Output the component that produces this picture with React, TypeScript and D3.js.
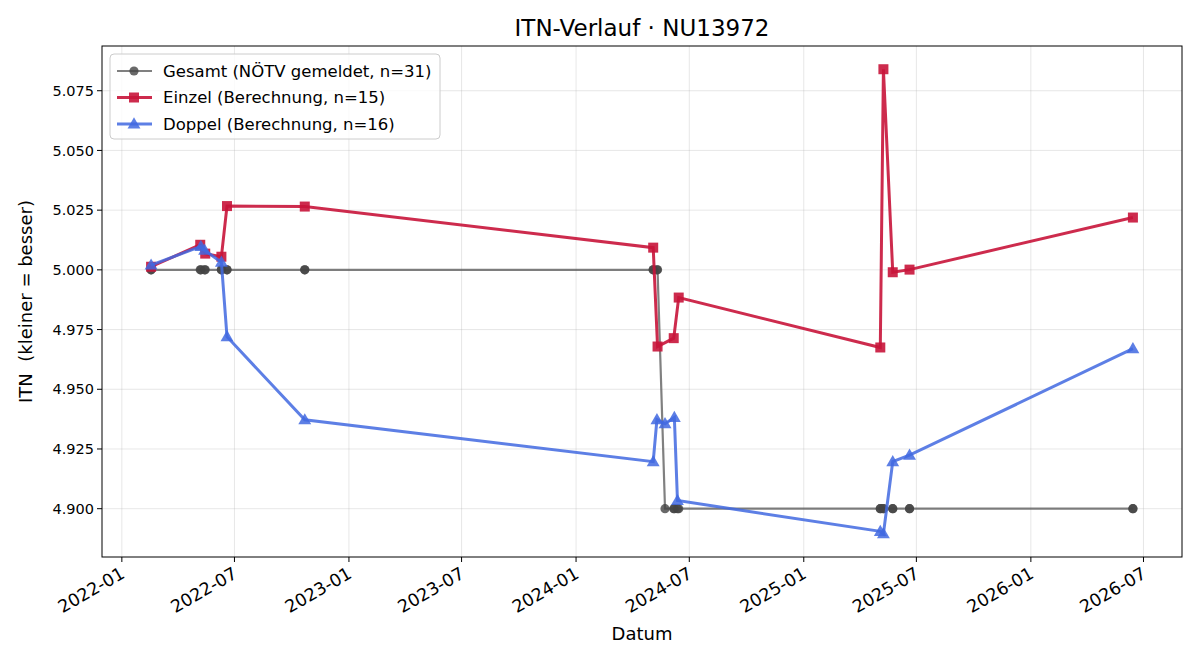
import React, { useEffect, useRef } from 'react';
import * as d3 from 'd3';

// Einzel (Berechnung)
const einzelDates = [
  '2022-02-17', '2022-05-07', '2022-05-15', '2022-06-10', '2022-06-19', '2022-10-22',
  '2024-05-04', '2024-05-11', '2024-06-06', '2024-06-14',
  '2025-05-04', '2025-05-09', '2025-05-24', '2025-06-20', '2026-06-14',
];
const einzelValues = [
  5.0013, 5.0105, 5.0068, 5.0055, 5.0267, 5.0265,
  5.0093, 4.9679, 4.9714, 4.9884,
  4.9675, 5.0840, 4.9990, 5.0001, 5.0219,
];

// Doppel (Berechnung)
const doppelDates = [
  '2022-02-17', '2022-05-08', '2022-05-14', '2022-06-10', '2022-06-19', '2022-10-22',
  '2024-05-04', '2024-05-10', '2024-05-23', '2024-06-07', '2024-06-12',
  '2025-05-04', '2025-05-09', '2025-05-24', '2025-06-20', '2026-06-14',
];
const doppelValues = [
  5.0020, 5.0098, 5.0082, 5.0032, 4.9720, 4.9372,
  4.9197, 4.9373, 4.9356, 4.9382, 4.9034,
  4.8905, 4.8895, 4.9197, 4.9224, 4.9670,
];

// Gesamt (NÖTV gemeldet)
const gesamtDates = [
  '2022-02-17', '2022-02-17', '2022-05-07', '2022-05-08', '2022-05-14', '2022-05-15',
  '2022-06-10', '2022-06-10', '2022-06-19', '2022-06-19', '2022-10-22', '2022-10-22',
  '2024-05-04', '2024-05-04', '2024-05-10', '2024-05-11',
  '2024-05-23', '2024-06-06', '2024-06-07', '2024-06-12', '2024-06-14',
  '2025-05-04', '2025-05-04', '2025-05-09', '2025-05-09', '2025-05-24', '2025-05-24',
  '2025-06-20', '2025-06-20', '2026-06-14', '2026-06-14',
];
const gesamtValues = [
  5.0, 5.0, 5.0, 5.0, 5.0, 5.0,
  5.0, 5.0, 5.0, 5.0, 5.0, 5.0,
  5.0, 5.0, 5.0, 5.0,
  4.9, 4.9, 4.9, 4.9, 4.9,
  4.9, 4.9, 4.9, 4.9, 4.9, 4.9,
  4.9, 4.9, 4.9, 4.9,
];

const yTicks = [4.900, 4.925, 4.950, 4.975, 5.000, 5.025, 5.050, 5.075];

const title = 'ITN-Verlauf · NU13972';
const xLabel = 'Datum';
const yLabel = 'ITN  (kleiner = besser)';

const WIDTH = 1200;
const HEIGHT = 660;
const margin = { top: 46, right: 18, bottom: 103, left: 102 };
const FONT = 'DejaVu Sans, sans-serif';

const parse = d3.timeParse('%Y-%m-%d');

type Pt = { date: Date; value: number };
const toPoints = (dates: string[], values: number[]): Pt[] =>
  dates.map((d, i) => ({ date: parse(d) as Date, value: values[i] }));

const App = () => {
  const ref = useRef<SVGSVGElement | null>(null);

  useEffect(() => {
    document.body.style.margin = '0';
    if (!ref.current) return;

    const svg = d3.select(ref.current);
    svg.selectAll('*').remove();

    const gesamt = toPoints(gesamtDates, gesamtValues);
    const einzel = toPoints(einzelDates, einzelValues);
    const doppel = toPoints(doppelDates, doppelValues);
    const all = [...gesamt, ...einzel, ...doppel];

    const innerW = WIDTH - margin.left - margin.right;
    const innerH = HEIGHT - margin.top - margin.bottom;

    // 5% padding like matplotlib autoscale
    const [t0, t1] = d3.extent(all, d => d.date.getTime()) as [number, number];
    const tPad = (t1 - t0) * 0.05;
    const [v0, v1] = d3.extent(all, d => d.value) as [number, number];
    const vPad = (v1 - v0) * 0.05;

    const x = d3.scaleTime()
      .domain([new Date(t0 - tPad), new Date(t1 + tPad)])
      .range([0, innerW]);
    const y = d3.scaleLinear()
      .domain([v0 - vPad, v1 + vPad])
      .range([innerH, 0]);

    svg.append('rect').attr('width', WIDTH).attr('height', HEIGHT).attr('fill', '#fff');

    const g = svg.append('g').attr('transform', `translate(${margin.left},${margin.top})`);

    const xTicks = x.ticks(d3.timeMonth.every(6) as d3.TimeInterval);

    // grid
    g.append('g').selectAll('line').data(xTicks).enter().append('line')
      .attr('x1', d => x(d)).attr('x2', d => x(d))
      .attr('y1', 0).attr('y2', innerH)
      .attr('stroke', '#b0b0b0').attr('stroke-opacity', 0.3).attr('stroke-width', 1);
    g.append('g').selectAll('line').data(yTicks).enter().append('line')
      .attr('x1', 0).attr('x2', innerW)
      .attr('y1', d => y(d)).attr('y2', d => y(d))
      .attr('stroke', '#b0b0b0').attr('stroke-opacity', 0.3).attr('stroke-width', 1);

    const line = d3.line<Pt>().x(d => x(d.date)).y(d => y(d.value));

    // Gesamt
    const grey = '#555';
    g.append('path').datum(gesamt)
      .attr('d', line).attr('fill', 'none')
      .attr('stroke', grey).attr('stroke-opacity', 0.75).attr('stroke-width', 2.2);
    g.append('g').selectAll('circle').data(gesamt).enter().append('circle')
      .attr('cx', d => x(d.date)).attr('cy', d => y(d.value)).attr('r', 4.6)
      .attr('fill', '#444').attr('fill-opacity', 0.8);

    // Einzel
    const red = '#c8143a';
    g.append('path').datum(einzel)
      .attr('d', line).attr('fill', 'none')
      .attr('stroke', red).attr('stroke-opacity', 0.9).attr('stroke-width', 3);
    g.append('g').selectAll('rect').data(einzel).enter().append('rect')
      .attr('x', d => x(d.date) - 5).attr('y', d => y(d.value) - 5)
      .attr('width', 10).attr('height', 10)
      .attr('fill', red).attr('fill-opacity', 0.9);

    // Doppel
    const blue = '#4169e1';
    g.append('path').datum(doppel)
      .attr('d', line).attr('fill', 'none')
      .attr('stroke', blue).attr('stroke-opacity', 0.85).attr('stroke-width', 3);
    const tri = d3.symbol().type(d3.symbolTriangle).size(72);
    g.append('g').selectAll('path').data(doppel).enter().append('path')
      .attr('d', tri)
      .attr('transform', d => `translate(${x(d.date)},${y(d.value) + 0.8})`)
      .attr('fill', blue).attr('fill-opacity', 0.85);

    // frame
    g.append('rect').attr('width', innerW).attr('height', innerH)
      .attr('fill', 'none').attr('stroke', '#000').attr('stroke-width', 1);

    // x ticks
    const xt = g.append('g').attr('transform', `translate(0,${innerH})`);
    xTicks.forEach(t => {
      xt.append('line').attr('x1', x(t)).attr('x2', x(t)).attr('y1', 0).attr('y2', 5)
        .attr('stroke', '#000').attr('stroke-width', 1);
      xt.append('text')
        .attr('transform', `translate(${x(t) + 4},${20}) rotate(-30)`)
        .attr('text-anchor', 'end')
        .attr('font-family', FONT).attr('font-size', 17.5)
        .text(d3.timeFormat('%Y-%m')(t));
    });

    // y ticks
    const yt = g.append('g');
    yTicks.forEach(v => {
      yt.append('line').attr('x1', -5).attr('x2', 0).attr('y1', y(v)).attr('y2', y(v))
        .attr('stroke', '#000').attr('stroke-width', 1);
      yt.append('text')
        .attr('x', -8).attr('y', y(v)).attr('dy', '0.35em')
        .attr('text-anchor', 'end')
        .attr('font-family', FONT).attr('font-size', 14.5)
        .text(d3.format('.3f')(v));
    });

    // labels
    svg.append('text')
      .attr('x', margin.left + innerW / 2).attr('y', 36)
      .attr('text-anchor', 'middle')
      .attr('font-family', FONT).attr('font-size', 23)
      .text(title);
    svg.append('text')
      .attr('x', margin.left + innerW / 2).attr('y', 640)
      .attr('text-anchor', 'middle')
      .attr('font-family', FONT).attr('font-size', 18)
      .text(xLabel);
    svg.append('text')
      .attr('transform', `translate(32,${margin.top + innerH / 2}) rotate(-90)`)
      .attr('text-anchor', 'middle')
      .attr('font-family', FONT).attr('font-size', 18)
      .style('white-space', 'pre')
      .text(yLabel);

    // legend
    const lg = svg.append('g').attr('transform', 'translate(110,54)');
    lg.append('rect').attr('width', 330).attr('height', 85).attr('rx', 4)
      .attr('fill', '#fff').attr('fill-opacity', 0.8)
      .attr('stroke', '#ccc').attr('stroke-width', 1);
    const items = [
      { label: 'Gesamt (NÖTV gemeldet, n=31)', color: grey, op: 0.75, w: 2.2, marker: 'circle' },
      { label: 'Einzel (Berechnung, n=15)', color: red, op: 0.9, w: 3, marker: 'square' },
      { label: 'Doppel (Berechnung, n=16)', color: blue, op: 0.85, w: 3, marker: 'triangle' },
    ];
    items.forEach((it, i) => {
      const cy = 17 + i * 26.5;
      lg.append('line').attr('x1', 7).attr('x2', 42).attr('y1', cy).attr('y2', cy)
        .attr('stroke', it.color).attr('stroke-opacity', it.op).attr('stroke-width', it.w);
      if (it.marker === 'circle') {
        lg.append('circle').attr('cx', 24).attr('cy', cy).attr('r', 4.6)
          .attr('fill', '#444').attr('fill-opacity', 0.8);
      } else if (it.marker === 'square') {
        lg.append('rect').attr('x', 19).attr('y', cy - 5).attr('width', 10).attr('height', 10)
          .attr('fill', it.color).attr('fill-opacity', it.op);
      } else {
        lg.append('path').attr('d', tri).attr('transform', `translate(24,${cy + 0.8})`)
          .attr('fill', it.color).attr('fill-opacity', it.op);
      }
      lg.append('text')
        .attr('x', 53).attr('y', cy).attr('dy', '0.35em')
        .attr('font-family', FONT).attr('font-size', 16.5)
        .text(it.label);
    });
  }, []);

  return <svg ref={ref} width={WIDTH} height={HEIGHT} style={{ display: 'block' }}></svg>;
};

export default App;
